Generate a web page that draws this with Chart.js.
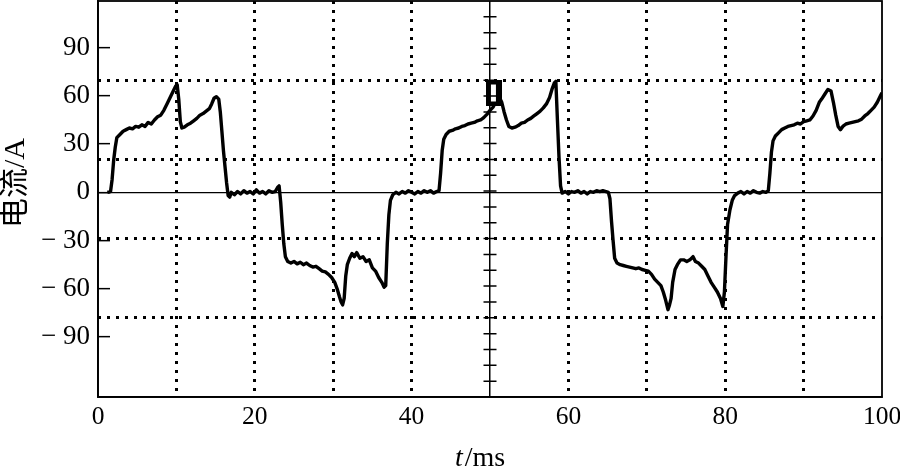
<!DOCTYPE html>
<html><head><meta charset="utf-8">
<script src="https://cdn.jsdelivr.net/npm/chart.js@4/dist/chart.umd.min.js"></script>
<style>html,body{margin:0;padding:0;background:#fff;overflow:hidden}canvas{display:block}</style>
</head><body>
<canvas id="c" width="900" height="473"></canvas>
<script>
// ---- data ----
const timeMs = [
 1.2,1.6,1.8,2.0,2.2,2.4,2.8,3.2,3.6,4.0,4.4,4.8,5.2,5.6,6.0,6.4,6.8,7.2,7.6,8.0,8.4,8.8,9.2,9.6,9.9,10.1,10.3,10.5,10.7,
 11.0,11.4,11.8,12.2,12.6,13.0,13.4,13.8,14.2,14.5,14.8,15.1,15.4,15.6,15.8,16.0,16.2,16.4,16.6,16.8,17.0,17.4,17.8,18.2,18.6,19.0,19.4,19.8,
 20.2,20.6,21.0,21.4,21.8,22.2,22.6,22.9,23.1,23.3,23.5,23.7,23.9,24.2,24.6,25.0,25.4,25.8,26.2,26.6,27.0,27.4,27.8,28.2,28.6,29.0,29.4,29.8,
 30.2,30.5,30.8,31.0,31.2,31.4,31.6,31.8,32.1,32.4,32.7,33.0,33.4,33.8,34.2,34.6,35.0,35.4,35.8,36.2,36.5,36.7,36.9,37.1,37.3,37.6,
 38.0,38.4,38.8,39.2,39.6,40.0,40.4,40.8,41.2,41.6,42.0,42.4,42.8,43.2,43.5,43.7,43.9,44.1,44.4,44.8,45.2,45.6,46.0,46.4,46.8,47.2,47.6,
 48.0,48.4,48.8,49.2,49.6,50.0,50.4,50.8,51.2,51.5,51.8,52.1,52.4,52.8,53.2,53.6,54.0,54.4,54.8,55.2,55.6,56.0,56.4,56.8,57.2,57.6,57.9,
 58.2,58.4,58.6,58.8,59.0,59.2,59.6,60.0,60.4,60.8,61.2,61.6,62.0,62.4,62.8,63.2,63.6,64.0,64.4,64.8,65.1,65.3,65.5,65.7,65.9,66.2,66.6,
 67.0,67.4,67.8,68.2,68.6,69.0,69.4,69.8,70.2,70.6,71.0,71.4,71.8,72.1,72.4,72.7,72.9,73.1,73.3,73.6,73.9,74.3,74.7,75.1,75.5,75.9,
 76.2,76.6,77.0,77.4,77.8,78.2,78.6,79.0,79.4,79.7,79.9,80.1,80.3,80.6,80.9,81.2,81.6,82.0,82.4,82.8,83.2,83.6,84.0,84.4,84.8,85.2,85.5,
 85.7,85.9,86.1,86.4,86.8,87.2,87.6,88.0,88.4,88.8,89.2,89.6,90.0,90.4,90.8,91.2,91.6,92.0,92.3,92.7,93.1,93.5,93.8,94.1,94.4,94.7,
 95.0,95.4,95.8,96.2,96.6,97.0,97.4,97.8,98.2,98.6,99.0,99.4,99.8,100
];
const currentA = [
 0,0.5,8,20,28,34,36,38,39,40,39.5,41,40.5,42,41,43.5,42.5,45,47,48,51,55,59,63,66,67,58,44,40,
 40.5,42,43,44.5,46,48,49,50.5,52,55,58.5,59.5,58,50,38,26,16,6,-2,-3,0,-1.5,0.5,-1,1,-0.5,0.5,-1,
 1.5,-0.5,0.5,-1,1,0,0.5,3,4,-6,-20,-32,-40,-43,-44,-43,-44.5,-43.5,-45,-44,-45.5,-46.5,-46,-47.5,-49,-49.5,-51,-53,
 -56,-60,-65,-68,-70,-66,-52,-45,-41,-38,-40,-37.5,-41,-40,-43,-42,-47,-49,-53,-56,-59,-58,-32,-14,-5,-1.5,
 0,-1,0.5,-0.5,1,0,-1,0.5,-0.5,1,0,1,-0.5,0.5,1,12,26,33,36,38,38.5,39.5,40,41,41.5,42.5,43,
 43.5,44.5,45,46.5,48.5,51,53,57,59,56,50,45,41,40,40.5,41.5,43,43.5,45,46,47.5,49,50.5,52.5,55,59,64,
 68,69,45,22,4,-0.5,0.5,-1,0.5,0,1,-0.5,0.5,-1,0.5,0,1,0.5,1,0.5,0,-4,-18,-30,-41,-44,-45,
 -45.5,-46,-46.5,-47,-47.5,-47,-48,-48.5,-49,-51,-54,-56,-58,-62,-67,-73,-70,-66,-56,-48,-45,-42,-42,-43,-42,-40,
 -43,-44,-46,-48,-52,-56,-59,-62,-66,-71,-62,-40,-20,-11,-5,-2,-0.5,0.5,-1,0.5,-0.5,1,0,-0.5,0.5,0,1,
 12,25,32,35,37,39,40,41,41.5,42,43,42.5,44,44.5,45,47.5,51,56,58,61,64,63,56,48,41,39,
 41,42.5,43,43.5,44,44.5,45.5,47.5,49,51,53,56,60,62
];
// oscilloscope trigger marker
const markerTime = [50.5];
const markerCurrent = [61.5];
// ticks / graticule
const yTickValues = [-90, -60, -30, 0, 30, 60, 90];
const xTickValues = [0, 10, 20, 30, 40, 50, 60, 70, 80, 90, 100];
const xLabelValues = [0, 20, 40, 60, 80, 100];
const xDivisionValues = [10, 20, 30, 40, 60, 70, 80, 90];
const yDivisionValues = [1, 2, 3, 4];
const yTitle = '电流/A';
const xTitleVar = 't';
const xTitleUnit = '/ms';

// ---- styles ----
const SERIF = '"Liberation Serif", "Times New Roman", serif';
const markerImg = (() => {
  const c = document.createElement('canvas'); c.width = 16; c.height = 26;
  const g = c.getContext('2d');
  g.fillStyle = '#000'; g.fillRect(0, 0, 16, 26);
  g.fillStyle = '#fff'; g.fillRect(5, 4, 5, 17);
  return c;
})();

const scopePlugin = {
  id: 'scope',
  afterDatasetsDraw(chart) {
    const {ctx, chartArea: a, scales} = chart;
    ctx.save();
    ctx.strokeStyle = '#000';
    const xc = scales.x.getPixelForValue(50);
    ctx.lineWidth = 1.5;
    ctx.beginPath();
    for (let k = 1; k < 25; k++) {
      const y = scales.yg.getPixelForValue(k * 0.2);
      ctx.moveTo(xc - 6.5, y); ctx.lineTo(xc + 6.5, y);
    }
    ctx.stroke();
    ctx.lineWidth = 1.8;
    ctx.strokeRect(a.left, a.top, a.right - a.left, a.bottom - a.top);
    ctx.restore();
  },
  afterDraw(chart) {
    const {ctx, chartArea: a} = chart;
    ctx.save();
    ctx.fillStyle = '#000';
    ctx.textAlign = 'left';
    ctx.textBaseline = 'alphabetic';
    ctx.font = 'italic 28px ' + SERIF;
    const w1 = ctx.measureText(xTitleVar).width;
    ctx.font = '28px ' + SERIF;
    const w2 = ctx.measureText(xTitleUnit).width;
    const cx = (a.left + a.right) / 2 - 10;
    const x0 = cx - (w1 + w2 + 2) / 2;
    ctx.font = 'italic 28px ' + SERIF;
    ctx.fillText(xTitleVar, x0, 466);
    ctx.font = '28px ' + SERIF;
    ctx.fillText(xTitleUnit, x0 + w1 + 2, 466);
    ctx.translate(16, 183);
    ctx.rotate(-Math.PI / 2);
    ctx.textAlign = 'center';
    ctx.textBaseline = 'middle';
    ctx.font = '30px "Liberation Serif", "Noto Sans CJK SC"';
    ctx.fillText(yTitle, 0, 0);
    ctx.restore();
  }
};

const noPad = s => { s.paddingLeft = 0; s.paddingRight = 0; s.paddingTop = 0; s.paddingBottom = 0; };

new Chart(document.getElementById('c'), {
  type: 'line',
  data: {
    datasets: [
      {
        label: 'marker',
        data: markerTime.map((t, i) => ({x: t, y: markerCurrent[i]})),
        showLine: false,
        pointStyle: markerImg,
        pointRadius: 10,
        order: 0
      },
      {
        label: 'current',
        data: timeMs.map((t, i) => ({x: t, y: currentA[i]})),
        borderColor: '#000',
        borderWidth: 3.4,
        pointRadius: 0,
        tension: 0,
        fill: false,
        borderJoinStyle: 'round',
        order: 1
      }
    ]
  },
  options: {
    responsive: false,
    animation: false,
    devicePixelRatio: 1,
    layout: {autoPadding: false, padding: {top: 1, right: 18, left: 0, bottom: 0}},
    plugins: {legend: {display: false}, tooltip: {enabled: false}},
    scales: {
      x: {
        type: 'linear', position: 'bottom', min: 0, max: 100,
        afterBuildTicks: s => { s.ticks = xTickValues.map(v => ({value: v})); },
        afterFit: s => { s.height = 76; noPad(s); },
        ticks: {
          autoSkip: false, maxRotation: 0, padding: 5, color: '#000',
          font: {family: SERIF, size: 25.5},
          callback: v => xLabelValues.includes(v) ? String(v) : ''
        },
        grid: {
          drawTicks: false, lineWidth: 1.5,
          color: c => (c.tick && c.tick.value === 50) ? '#000' : 'rgba(0,0,0,0)'
        },
        border: {display: true, color: '#000', width: 1.8}
      },
      xg: {
        type: 'linear', position: 'bottom', min: 0, max: 100,
        afterBuildTicks: s => { s.ticks = xDivisionValues.map(v => ({value: v})); },
        afterFit: s => { s.height = 0; noPad(s); },
        ticks: {display: false},
        grid: {drawTicks: false, color: '#000', lineWidth: 3},
        border: {display: false, dash: [3, 6]}
      },
      y: {
        type: 'linear', position: 'left', min: -127.3, max: 119,
        afterBuildTicks: s => { s.ticks = yTickValues.map(v => ({value: v})); },
        afterFit: s => { s.width = 98; noPad(s); },
        ticks: {
          padding: 20, color: '#000', font: {family: SERIF, size: 27},
          callback: v => v < 0 ? '\u2212 ' + Math.abs(v) : String(v)
        },
        grid: {
          drawTicks: true, tickLength: -12, tickColor: '#000', tickWidth: 1.5, lineWidth: 1.3,
          color: c => (c.tick && c.tick.value === 0) ? '#000' : 'rgba(0,0,0,0)'
        },
        border: {display: true, color: '#000', width: 1.8}
      },
      yg: {
        type: 'linear', position: 'left', min: 0, max: 5,
        afterBuildTicks: s => { s.ticks = yDivisionValues.map(v => ({value: v})); },
        afterFit: s => { s.width = 0; noPad(s); },
        ticks: {display: false},
        grid: {drawTicks: false, color: '#000', lineWidth: 3},
        border: {display: false, dash: [3, 6]}
      }
    }
  },
  plugins: [scopePlugin]
});
</script>
</body></html>
